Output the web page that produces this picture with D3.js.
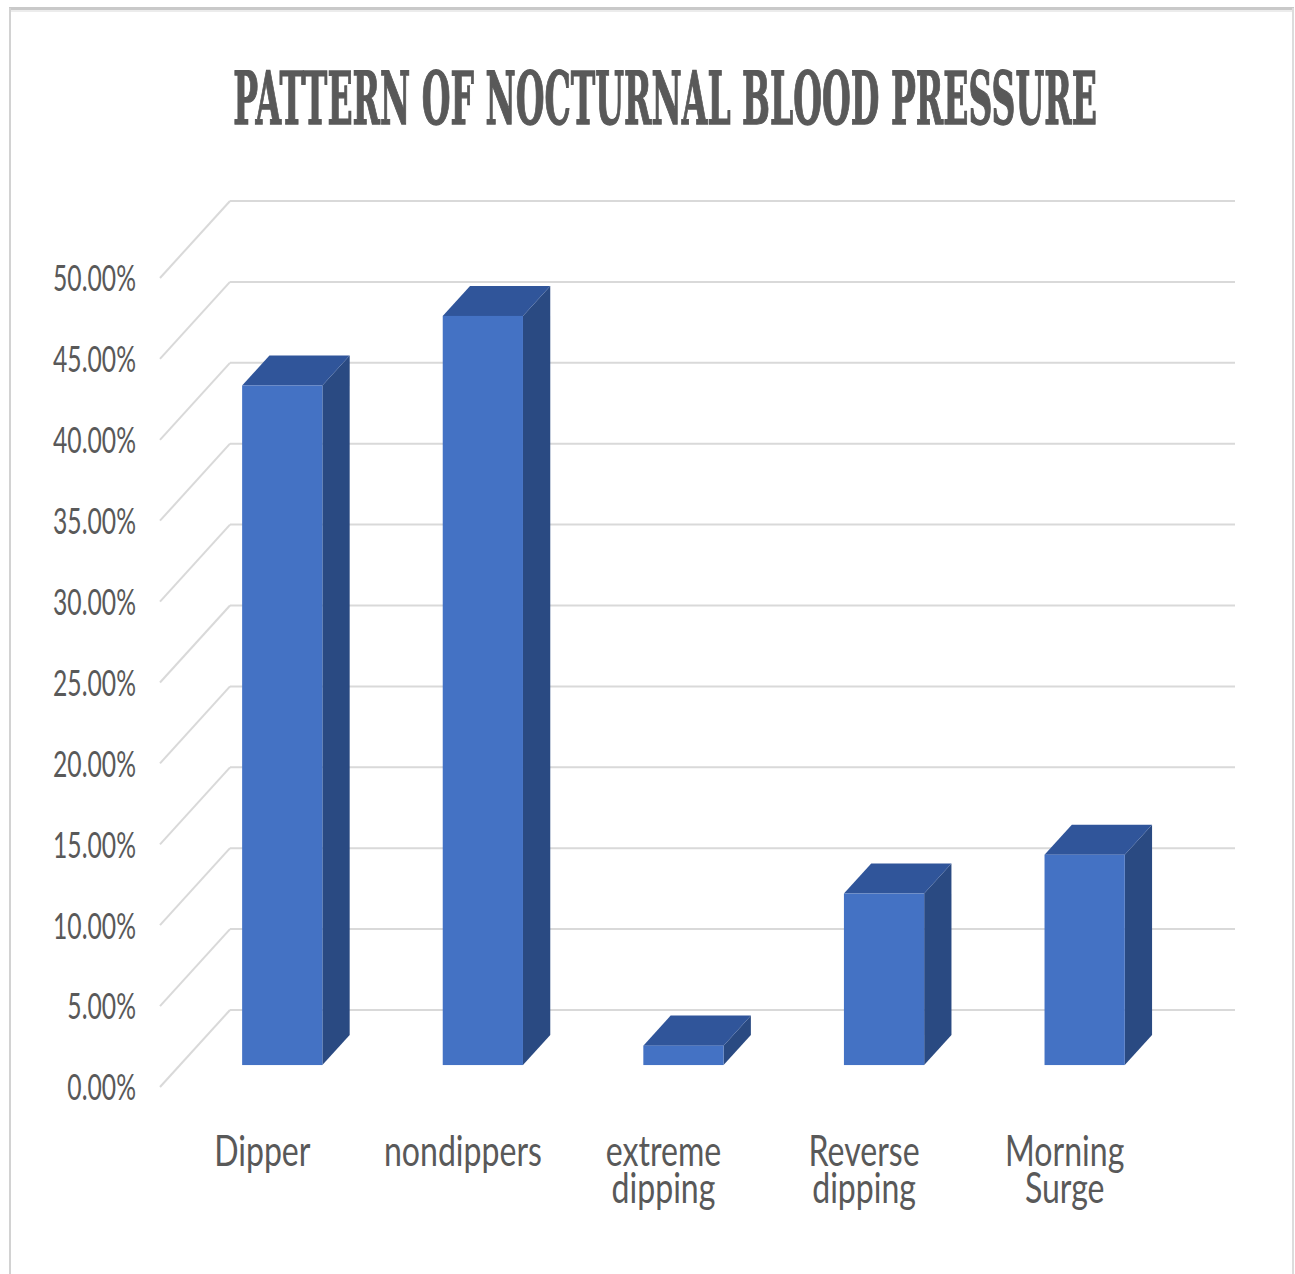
<!DOCTYPE html>
<html>
<head>
<meta charset="utf-8">
<script src="https://cdn.jsdelivr.net/npm/d3@7"></script>
<style>
  html, body { margin: 0; padding: 0; background: #ffffff; }
  svg { display: block; }
</style>
</head>
<body>
<script>
// Chart data
const title = "PATTERN OF NOCTURNAL BLOOD PRESSURE";
const categories = ["Dipper", "nondippers", "extreme dipping", "Reverse dipping", "Morning Surge"];
const values = [42.0, 46.3, 1.2, 10.6, 13.0];          // percent
const yTicks = [0, 5, 10, 15, 20, 25, 30, 35, 40, 45, 50];
const yTickLabels = yTicks.map(v => v.toFixed(2) + "%");

const W = 1295, H = 1274;
const svg = d3.select("body").append("svg").attr("width", W).attr("height", H);

// Outer frame
svg.append("line").attr("x1", 9).attr("x2", 1294).attr("y1", 8.5).attr("y2", 8.5)
  .attr("stroke", "#c9c9c9").attr("stroke-width", 3);
svg.append("line").attr("x1", 9).attr("x2", 1294).attr("y1", 11).attr("y2", 11)
  .attr("stroke", "#ececec").attr("stroke-width", 2);
svg.append("line").attr("x1", 10).attr("x2", 10).attr("y1", 8).attr("y2", H)
  .attr("stroke", "#d2d2d2").attr("stroke-width", 2);
svg.append("line").attr("x1", 1293).attr("x2", 1293).attr("y1", 8).attr("y2", H)
  .attr("stroke", "#dcdcdc").attr("stroke-width", 2);

// Pseudo-3D projection: front plane plus a depth offset
const front = { x0: 160, x1: 1167 };
const depth = { dx: 70, dy: -77 };
const barDepth = [0.285, 0.675];   // front / back of the bars as fractions of the floor depth

const x = d3.scaleBand().domain(categories).range([front.x0, front.x1])
  .paddingInner(0.6).paddingOuter(0.31);
const y = d3.scaleLinear().domain([0, 50]).range([1087, 278]);

const textColor = "#595959";
const gridColor = "#d9d9d9";

// Gridlines: left wall diagonals and back wall horizontals
const grid = svg.append("g");
yTicks.forEach(t => {
  const yf = y(t);
  grid.append("line")
    .attr("x1", front.x0).attr("y1", yf)
    .attr("x2", front.x0 + depth.dx).attr("y2", yf + depth.dy)
    .attr("stroke", gridColor).attr("stroke-width", 2);
  grid.append("line")
    .attr("x1", front.x0 + depth.dx).attr("y1", yf + depth.dy)
    .attr("x2", 1235).attr("y2", yf + depth.dy)
    .attr("stroke", gridColor).attr("stroke-width", 2);
});

// Bars
const fx = barDepth[0] * depth.dx, fy = barDepth[0] * depth.dy;
const ox = (barDepth[1] - barDepth[0]) * depth.dx;
const oy = (barDepth[1] - barDepth[0]) * depth.dy;
const bw = x.bandwidth();

const bars = svg.append("g").selectAll("g.bar")
  .data(categories.map((c, i) => ({ c, v: values[i] })))
  .join("g").attr("class", "bar");

bars.each(function(d) {
  const g = d3.select(this);
  const xl = x(d.c) + fx, xr = xl + bw;
  const yb = y(0) + fy, yt = y(d.v) + fy;
  // side face
  g.append("path")
    .attr("d", `M${xr},${yt} L${xr + ox},${yt + oy} L${xr + ox},${yb + oy} L${xr},${yb} Z`)
    .attr("fill", "#2a4a82");
  // top face
  g.append("path")
    .attr("d", `M${xl},${yt} L${xl + ox},${yt + oy} L${xr + ox},${yt + oy} L${xr},${yt} Z`)
    .attr("fill", "#30559a");
  // front face
  g.append("rect")
    .attr("x", xl).attr("y", yt).attr("width", bw).attr("height", yb - yt)
    .attr("fill", "#4472c4");
});

// Fit a text element horizontally to a target width, keeping its height
function squeeze(sel, sx, tx, ty) {
  sel.attr("transform", `translate(${tx},${ty}) scale(${sx},1)`);
}

// Y tick labels
const yLabels = svg.append("g")
  .attr("font-family", "Lato, 'Open Sans', sans-serif")
  .attr("font-size", 37).attr("fill", textColor).attr("text-anchor", "end");
const yText = yLabels.selectAll("text").data(yTicks).join("text")
  .attr("dy", "0.36em")
  .text((d, i) => yTickLabels[i]);
const refW = yText.filter(d => d === 50).node().getComputedTextLength();
const ySx = 83 / refW;
yText.each(function(d) { squeeze(d3.select(this), ySx, 136, y(d)); });

// Category labels (wrapped on spaces)
const cLabels = svg.append("g")
  .attr("font-family", "Lato, 'Open Sans', sans-serif")
  .attr("font-size", 42).attr("fill", textColor).attr("text-anchor", "middle");
const cText = cLabels.selectAll("text").data(categories).join("text");
cText.each(function(d) {
  const t = d3.select(this);
  d.split(" ").forEach((w, k) => {
    t.append("tspan").attr("x", 0).attr("y", k * 37).text(w);
  });
});
const ndW = cText.filter(d => d === "nondippers").node().getComputedTextLength();
const cSx = 158 / ndW;
cText.each(function(d) { squeeze(d3.select(this), cSx, x(d) + bw / 2, 1166); });

// Title
const tt = svg.append("text")
  .attr("font-family", "'DejaVu Serif', serif")
  .attr("font-weight", "bold")
  .attr("font-size", 72).attr("fill", textColor)
  .attr("stroke", textColor).attr("stroke-width", 1.4)
  .attr("text-anchor", "middle")
  .text(title);
const tW = tt.node().getComputedTextLength();
squeeze(tt, 864 / tW, 665, 124);
</script>
</body>
</html>
